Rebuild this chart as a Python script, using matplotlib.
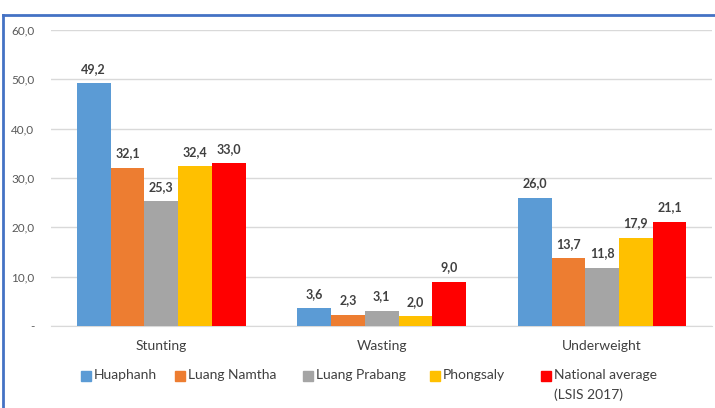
import matplotlib.pyplot as plt
import numpy as np
from matplotlib.lines import Line2D

categories = ["Stunting", "Wasting", "Underweight"]
series_names = ["Huaphanh", "Luang Namtha", "Luang Prabang", "Phongsaly",
                "National average\n(LSIS 2017)"]
huaphanh = [49.2, 3.6, 26.0]
luang_namtha = [32.1, 2.3, 13.7]
luang_prabang = [25.3, 3.1, 11.8]
phongsaly = [32.4, 2.0, 17.9]
national = [33.0, 9.0, 21.1]
yticks = [0, 10, 20, 30, 40, 50, 60]

colors = ["#5B9BD5", "#ED7D31", "#A5A5A5", "#FFC000", "#FF0000"]
values = [huaphanh, luang_namtha, luang_prabang, phongsaly, national]

plt.rcParams["font.family"] = ["Lato", "DejaVu Sans"]

W, H = 715, 408
fig = plt.figure(figsize=(W / 100, H / 100), dpi=100)
ax = fig.add_axes([0.0713, 0.201, 0.925, 0.7255])

x = np.arange(len(categories))
width = 0.153
for i, (vals, col) in enumerate(zip(values, colors)):
    offs = (i - 2) * width
    bars = ax.bar(x + offs, vals, width, color=col, zorder=3)
    for b, v in zip(bars, vals):
        ax.annotate(f"{v:.1f}".replace(".", ","),
                    (b.get_x() + b.get_width() / 2, v),
                    xytext=(0, 6), textcoords="offset points",
                    ha="center", va="bottom", fontsize=9, fontweight="bold",
                    color="#404040")

ax.set_xlim(-0.5, 2.5)
ax.set_ylim(0, 60)
ax.set_yticks(yticks)
ax.set_yticklabels(["-"] + [f"{t:.1f}".replace(".", ",") for t in yticks[1:]],
                   fontsize=8.5, color="#595959")
ax.set_xticks(x)
ax.set_xticklabels(categories, fontsize=10, color="#404040")
ax.tick_params(axis="both", length=0)
ax.tick_params(axis="x", pad=10)
ax.tick_params(axis="y", pad=12)
ax.grid(axis="y", color="#D9D9D9", linewidth=1, zorder=0)
for s in ["top", "right", "left"]:
    ax.spines[s].set_visible(False)
ax.spines["bottom"].set_color("#D9D9D9")

# legend, laid out by hand (pixel positions from the left / top)
leg_x = [86, 180, 308, 435, 546]
leg_y = 376
for lx, name, col in zip(leg_x, series_names, colors):
    fig.add_artist(Line2D([lx / W], [1 - leg_y / H], marker="s", markersize=6.5,
                          linestyle="none", color=col, transform=fig.transFigure))
    fig.text((lx + 8) / W, 1 - (leg_y - 7) / H, name, ha="left", va="top",
             fontsize=10, color="#404040", linespacing=1.7)

# blue frame on top and left
fig.add_artist(Line2D([0.004, 0.004], [0, 0.963], color="#4472C4", linewidth=2,
                      transform=fig.transFigure))
fig.add_artist(Line2D([0.004, 1.0], [0.963, 0.963], color="#4472C4", linewidth=2,
                      transform=fig.transFigure))

fig.savefig("out.png", dpi=100)
